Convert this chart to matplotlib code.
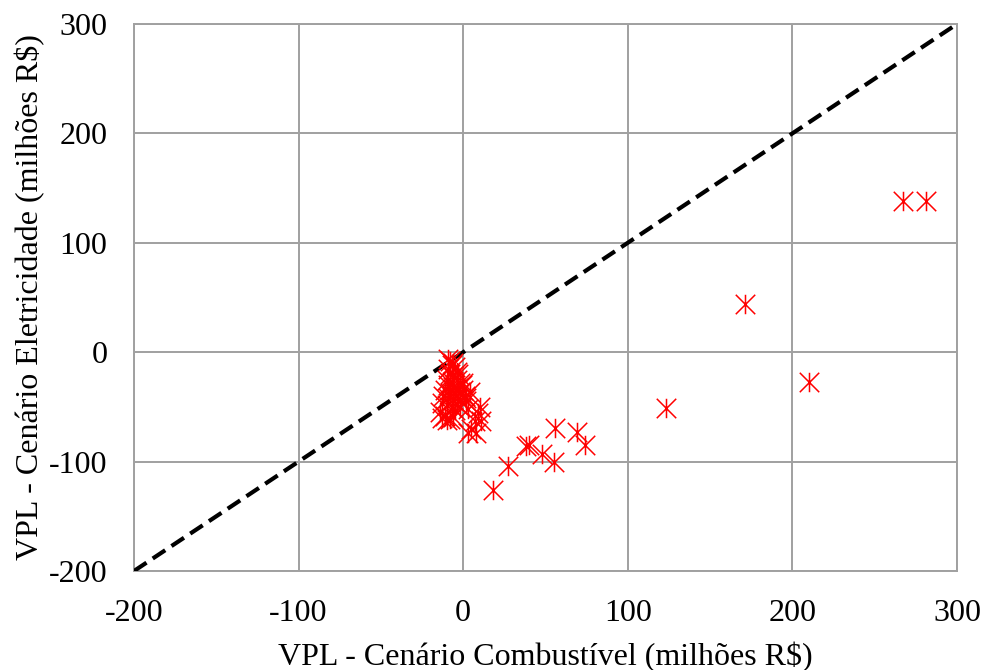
import matplotlib
matplotlib.use("Agg")
import matplotlib.pyplot as plt
from matplotlib.path import Path

# Data: VPL fuel scenario (x) vs electricity scenario (y), millions R$
vpl_combustivel = [
    267, 281, 171, 210, 123, 56, 69, 74, 38, 40, 48, 55, 27, 18,
    -9, -8, -7, -6, -5, -9, -4, -8, -6, -3, -10, -7, -4, -2, -9, -6, -3, -1,
    -11, -8, -5, -2, 0, -12, -9, -6, -3, 1, -13, -10, -7, -4, 2, -14, -11, -8,
    -5, -2, 3, 9, 10, 7, 5, 8, 3, 11, -13, -10, 4, -6, 0, 2,
]
vpl_eletricidade = [
    138, 138, 44, -27, -51, -69, -73, -85, -86, -85, -93, -100, -104, -126,
    -6, -8, -12, -10, -14, -15, -18, -20, -22, -20, -25, -27, -25, -28, -30, -32, -33, -30,
    -35, -37, -38, -36, -35, -40, -42, -44, -42, -40, -46, -48, -50, -47, -45, -55, -58, -61,
    -53, -50, -52, -56, -50, -63, -70, -74, -74, -63, -60, -62, -36, -59, -28, -42,
]
diag = [-200, 300]
ticks = [-200, -100, 0, 100, 200, 300]

plt.rcParams['font.family'] = ['Liberation Serif', 'DejaVu Serif']

fig = plt.figure(figsize=(9.86, 6.70), dpi=100)
ax = fig.add_axes([0.1359, 0.1478, 0.9706 - 0.1359, 0.9642 - 0.1478])

star = Path([(-1, -1), (1, 1), (-1, 1), (1, -1), (0, -1), (0, 1)],
            [Path.MOVETO, Path.LINETO, Path.MOVETO, Path.LINETO, Path.MOVETO, Path.LINETO])

ax.plot(diag, diag, color='black', lw=3.0, ls=(0, (3.6, 1.8)), zorder=3)
ax.plot(vpl_combustivel, vpl_eletricidade, ls='none', marker=star, ms=14,
        mec='#ff0000', mfc='none', mew=1.1, zorder=4, clip_on=False)

ax.set_xlim(-200, 300)
ax.set_ylim(-200, 300)
ax.set_xticks(ticks)
ax.set_yticks(ticks)
ax.set_xticklabels([str(t) for t in ticks], fontsize=23)
ax.set_yticklabels([str(t) for t in ticks], fontsize=23)
ax.tick_params(axis='x', length=0, pad=20)
ax.tick_params(axis='y', length=0, pad=19)
ax.grid(True, color='#a0a0a0', lw=1.4)
ax.set_axisbelow(True)
for s in ax.spines.values():
    s.set_color('#a0a0a0')
    s.set_linewidth(1.4)

ax.set_xlabel('VPL - Cenário Combustível (milhões R$)', fontsize=23, labelpad=10)
ax.set_ylabel('VPL - Cenário Eletricidade (milhões R$)', fontsize=23, labelpad=3)

fig.savefig('out.png', dpi=100)
